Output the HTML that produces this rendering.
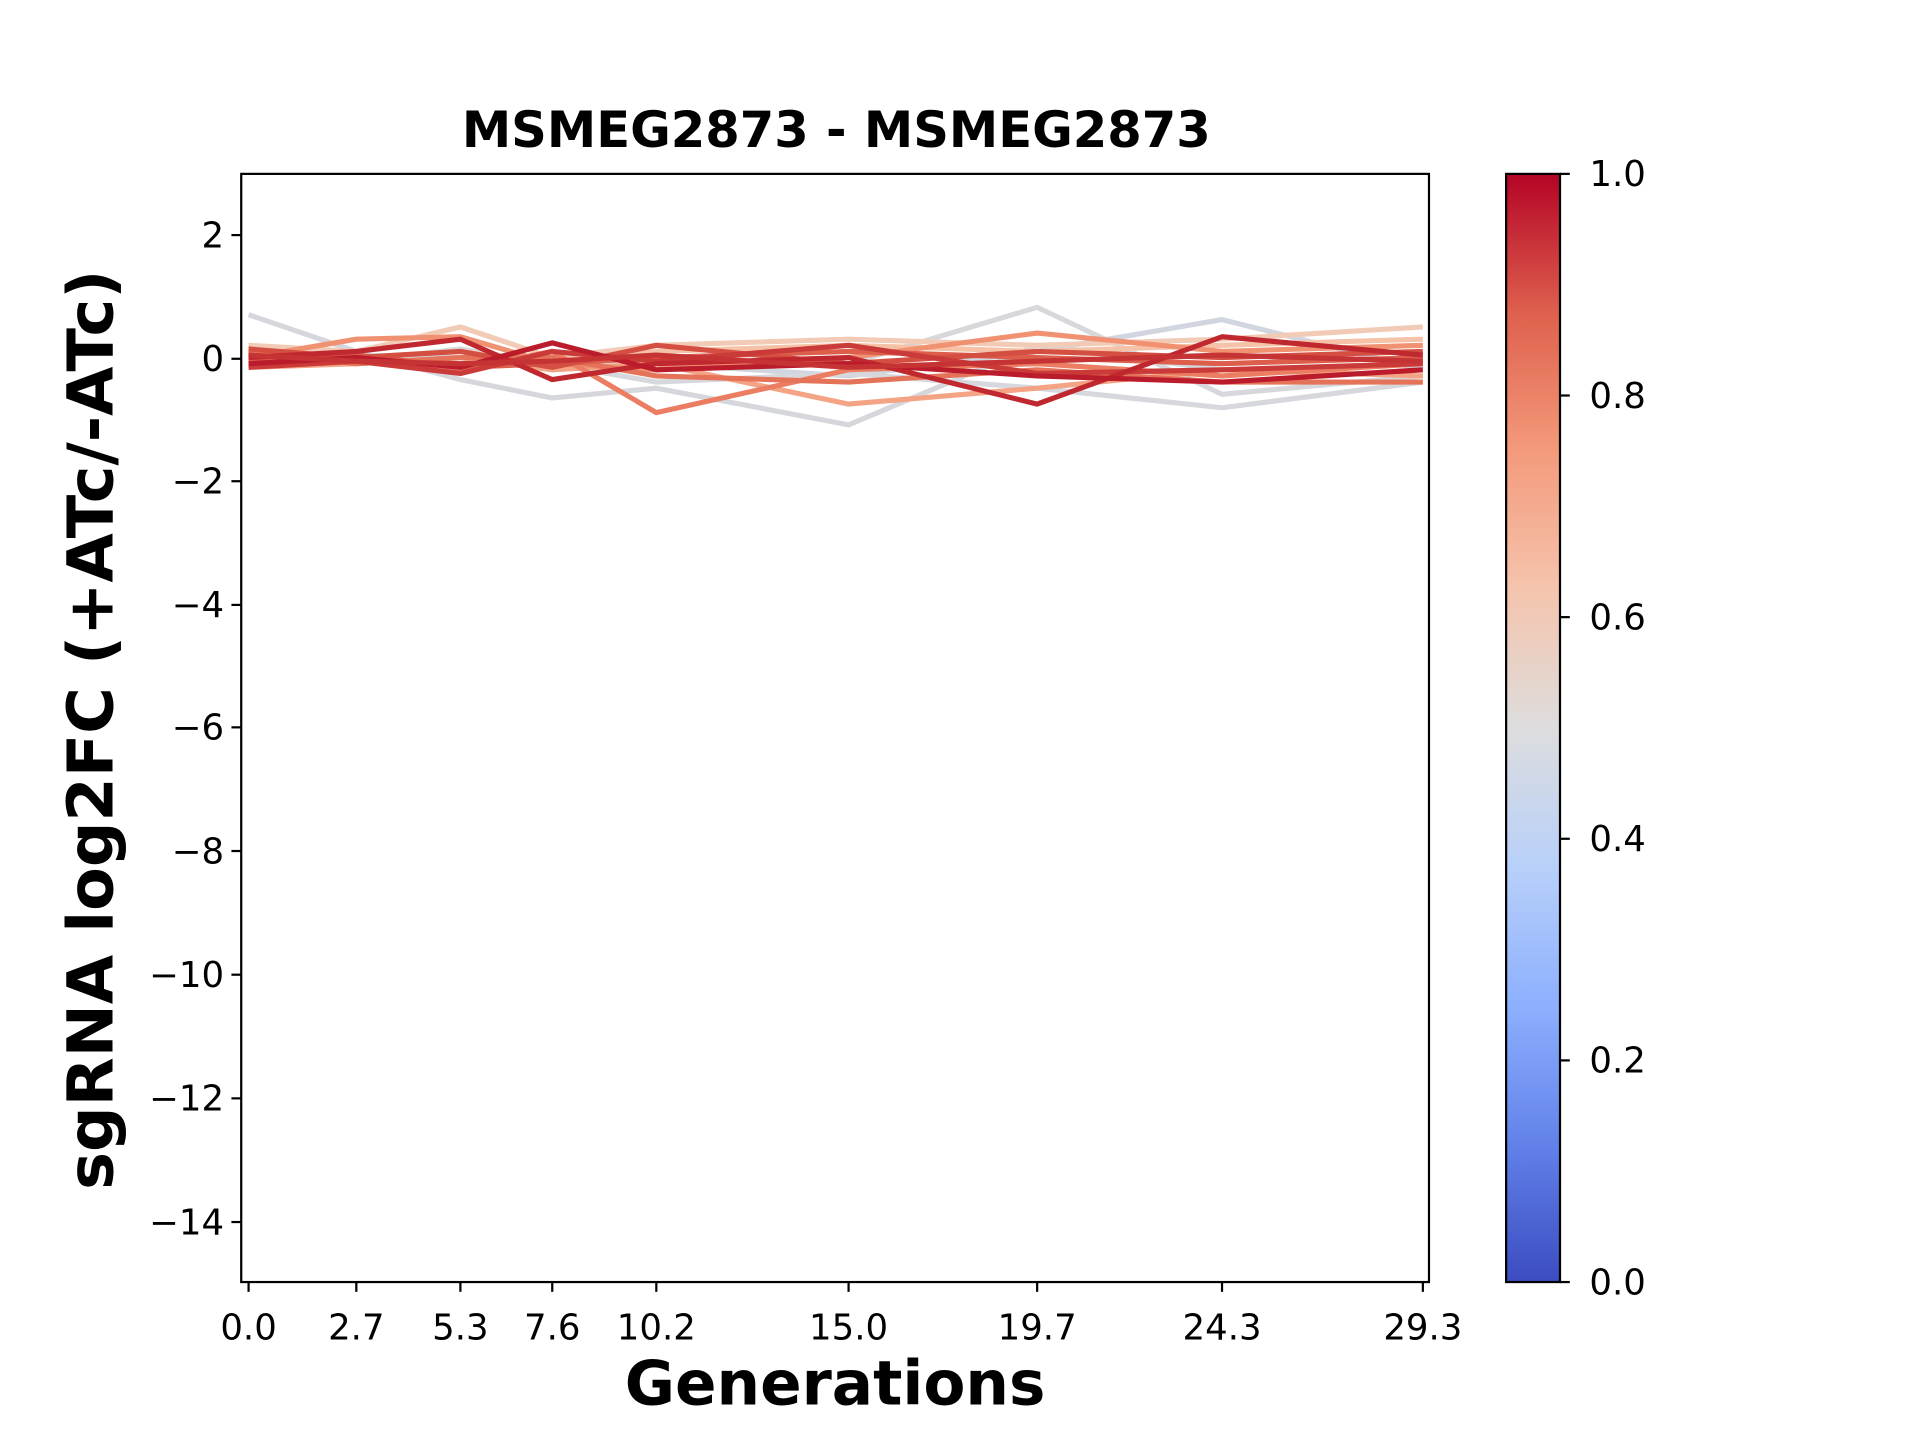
<!DOCTYPE html>
<html><head><meta charset="utf-8"><style>
html,body{margin:0;padding:0;background:#fff;}
svg{display:block;}
text{font-family:"DejaVu Sans","Liberation Sans",sans-serif;fill:#000;}
</style></head><body>
<svg width="1920" height="1440" viewBox="0 0 1568 1176" preserveAspectRatio="none" xmlns="http://www.w3.org/2000/svg">
<defs>
<linearGradient id="cw" x1="0" y1="1" x2="0" y2="0">
<stop offset="0" stop-color="#3b4cc0"/>
<stop offset="0.125" stop-color="#6282ea"/>
<stop offset="0.25" stop-color="#8db0fe"/>
<stop offset="0.375" stop-color="#b8d0f9"/>
<stop offset="0.5" stop-color="#dddddd"/>
<stop offset="0.625" stop-color="#f5c4ad"/>
<stop offset="0.75" stop-color="#f49a7b"/>
<stop offset="0.875" stop-color="#de604d"/>
<stop offset="1" stop-color="#b40426"/>
</linearGradient>
<clipPath id="pc"><rect x="197" y="142" width="970" height="905"/></clipPath>
</defs>
<text x="683" y="120" font-size="40.5" font-weight="bold" text-anchor="middle">MSMEG2873 - MSMEG2873</text>
<g clip-path="url(#pc)" fill="none" stroke-width="4.2" stroke-linejoin="round">
<polyline stroke="#d5d7dc" points="203,257 291,287 376,310 451,325 536,317 693,347 847,282 998,302 1162,297"/>
<polyline stroke="#d7d8dc" points="203,287 291,292 376,297 451,292 536,302 693,297 847,251 998,322 1162,307"/>
<polyline stroke="#d0d5df" points="203,297 291,290 376,292 451,302 536,297 693,307 847,287 998,261 1162,302"/>
<polyline stroke="#d6d8dd" points="203,292 291,295 376,285 451,297 536,312 693,305 847,317 998,333 1162,312"/>
<polyline stroke="#f2cbb7" points="203,282 291,287 376,267 451,292 536,282 693,277 847,282 998,277 1162,267"/>
<polyline stroke="#f5c2a8" points="203,290 291,292 376,287 451,297 536,287 693,282 847,287 998,282 1162,277"/>
<polyline stroke="#f4a385" points="203,300 291,297 376,292 451,302 536,297 693,330 847,317 998,302 1162,307"/>
<polyline stroke="#f09272" points="203,292 291,277 376,275 451,297 536,302 693,292 847,272 998,287 1162,282"/>
<polyline stroke="#eb7d62" points="203,297 291,292 376,302 451,287 536,337 693,302 847,297 998,307 1162,297"/>
<polyline stroke="#e5735a" points="203,287 291,297 376,292 451,292 536,307 693,312 847,302 998,312 1162,312"/>
<polyline stroke="#dc5e4b" points="203,295 291,290 376,300 451,297 536,292 693,287 847,292 998,297 1162,292"/>
<polyline stroke="#d44e41" points="203,285 291,292 376,287 451,300 536,282 693,297 847,287 998,292 1162,287"/>
<polyline stroke="#ca3a38" points="203,300 291,295 376,305 451,287 536,295 693,282 847,305 998,302 1162,297"/>
<polyline stroke="#c0282f" points="203,292 291,287 376,277 451,310 536,297 693,292 847,330 998,275 1162,290"/>
<polyline stroke="#bb1c2c" points="203,297 291,292 376,300 451,280 536,302 693,297 847,307 998,312 1162,302"/>
<polyline stroke="#c53334" points="203,290 291,295 376,297 451,295 536,290 693,300 847,295 998,290 1162,295"/>
</g>
<rect x="197" y="142" width="970" height="905" fill="none" stroke="#000" stroke-width="1.8"/>
<g stroke="#000" stroke-width="1.8">
<line x1="189" y1="192" x2="197" y2="192"/><line x1="189" y1="293" x2="197" y2="293"/><line x1="189" y1="393" x2="197" y2="393"/><line x1="189" y1="494" x2="197" y2="494"/><line x1="189" y1="594" x2="197" y2="594"/><line x1="189" y1="695" x2="197" y2="695"/><line x1="189" y1="796" x2="197" y2="796"/><line x1="189" y1="897" x2="197" y2="897"/><line x1="189" y1="998" x2="197" y2="998"/>
<line x1="203" y1="1047" x2="203" y2="1055"/><line x1="291" y1="1047" x2="291" y2="1055"/><line x1="376" y1="1047" x2="376" y2="1055"/><line x1="451" y1="1047" x2="451" y2="1055"/><line x1="536" y1="1047" x2="536" y2="1055"/><line x1="693" y1="1047" x2="693" y2="1055"/><line x1="847" y1="1047" x2="847" y2="1055"/><line x1="998" y1="1047" x2="998" y2="1055"/><line x1="1162" y1="1047" x2="1162" y2="1055"/>
</g>
<g font-size="29" text-anchor="end">
<text x="183" y="202">2</text><text x="183" y="303">0</text><text x="183" y="403">−2</text><text x="183" y="504">−4</text><text x="183" y="604">−6</text><text x="183" y="705">−8</text><text x="183" y="806">−10</text><text x="183" y="907">−12</text><text x="183" y="1008">−14</text>
</g>
<g font-size="29" text-anchor="middle">
<text x="203" y="1094">0.0</text><text x="291" y="1094">2.7</text><text x="376" y="1094">5.3</text><text x="451" y="1094">7.6</text><text x="536" y="1094">10.2</text><text x="693" y="1094">15.0</text><text x="847" y="1094">19.7</text><text x="998" y="1094">24.3</text><text x="1162" y="1094">29.3</text>
</g>
<text x="682" y="1147" font-size="50" font-weight="bold" text-anchor="middle">Generations</text>
<text transform="translate(92,596) rotate(-90)" font-size="52" font-weight="bold" text-anchor="middle">sgRNA log2FC (+ATc/-ATc)</text>
<rect x="1230" y="142" width="44" height="905" fill="url(#cw)" stroke="#000" stroke-width="1.8"/>
<g stroke="#000" stroke-width="1.8">
<line x1="1274" y1="142" x2="1282" y2="142"/><line x1="1274" y1="323" x2="1282" y2="323"/><line x1="1274" y1="504" x2="1282" y2="504"/><line x1="1274" y1="685" x2="1282" y2="685"/><line x1="1274" y1="866" x2="1282" y2="866"/><line x1="1274" y1="1047" x2="1282" y2="1047"/>
</g>
<g font-size="29">
<text x="1298" y="152">1.0</text><text x="1298" y="333">0.8</text><text x="1298" y="514">0.6</text><text x="1298" y="695">0.4</text><text x="1298" y="876">0.2</text><text x="1298" y="1057">0.0</text>
</g>
</svg>
</body></html>
